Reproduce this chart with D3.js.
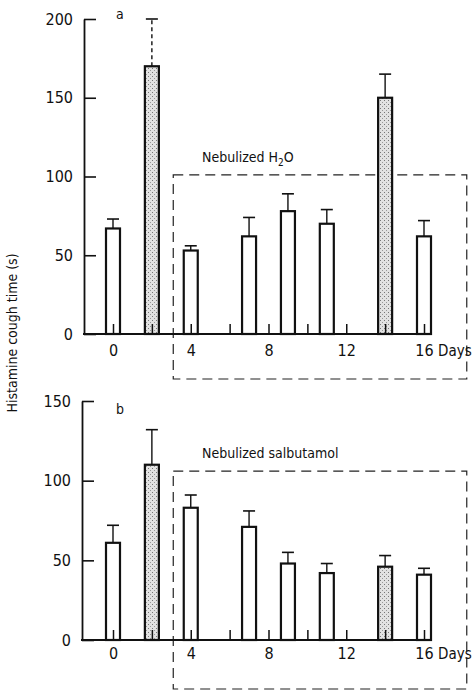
<!DOCTYPE html>
<html>
<head>
<meta charset="utf-8">
<script src="https://cdn.jsdelivr.net/npm/d3@7"></script>
<style>
  body { margin: 0; background: #fff; }
  text { font-family: "DejaVu Sans Condensed", "Liberation Sans Narrow", "DejaVu Sans", sans-serif; fill: #111; }
</style>
</head>
<body>
<script>
// values (histamine cough time, s)
var days = [0, 2, 4, 7, 9, 11, 14, 16];
var challengeDays = [2, 14];          // stippled bars
var coughA = [67, 170, 53, 62, 78, 70, 150, 62];
var semA = [6, 30, 3, 12, 11, 9, 15, 10];
var coughB = [61, 110, 83, 71, 48, 42, 46, 41];
var semB = [11, 22, 8, 10, 7, 6, 7, 4];
var dayTicks = [0, 2, 4, 6, 8, 10, 12, 14, 16];
var dayLabels = [0, 4, 8, 12, 16];
var yTicksA = [0, 50, 100, 150, 200];
var yTicksB = [0, 50, 100, 150];

var svg = d3.select("body").append("svg")
    .attr("width", 474)
    .attr("height", 692);

var x = d3.scaleLinear().domain([0, 16]).range([113, 424]);
var barW = 14;

// stipple fill for the challenge bars
var pat = svg.append("defs").append("pattern")
    .attr("id", "stip")
    .attr("patternUnits", "userSpaceOnUse")
    .attr("width", 4).attr("height", 4);
pat.append("rect").attr("width", 4).attr("height", 4).attr("fill", "#e2e2e2");
pat.append("rect").attr("x", 0).attr("y", 0).attr("width", 1).attr("height", 1).attr("fill", "#777");
pat.append("rect").attr("x", 2).attr("y", 2).attr("width", 1).attr("height", 1).attr("fill", "#999");

function panel(o) {
    var y = d3.scaleLinear().domain([0, o.max]).range([o.bottom, o.top]);
    var g = svg.append("g");

    // dashed treatment box
    var bx0 = x(3.1), bx1 = x(18.2), by0 = y(o.boxTop), by1 = o.bottom + o.boxDrop;
    g.append("rect")
        .attr("x", bx0).attr("y", by0)
        .attr("width", bx1 - bx0).attr("height", by1 - by0)
        .attr("fill", "none")
        .attr("stroke", "#222")
        .attr("stroke-width", 1.2)
        .attr("stroke-dasharray", "10,6");

    g.append("text")
        .attr("x", 202).attr("y", by0 - 13)
        .attr("font-size", 14)
        .call(o.title);

    // bars
    g.selectAll(".bar")
        .data(days)
        .enter().append("rect")
        .attr("x", function (d) { return x(d) - barW / 2; })
        .attr("y", function (d, i) { return y(o.vals[i]); })
        .attr("width", barW)
        .attr("height", function (d, i) { return o.bottom - y(o.vals[i]); })
        .attr("fill", function (d) { return challengeDays.indexOf(d) >= 0 ? "url(#stip)" : "#fff"; })
        .attr("stroke", "#111")
        .attr("stroke-width", 2.2);

    // error bars (mean + SEM)
    var err = g.selectAll(".err").data(days).enter().append("g");
    err.append("line")
        .attr("x1", function (d) { return x(d); })
        .attr("x2", function (d) { return x(d); })
        .attr("y1", function (d, i) { return y(o.vals[i]); })
        .attr("y2", function (d, i) { return y(o.vals[i] + o.sem[i]); })
        .attr("stroke", "#111")
        .attr("stroke-width", 1.4)
        .attr("stroke-dasharray", function (d) { return d === o.dashedDay ? "4,3" : null; });
    err.append("line")
        .attr("x1", function (d) { return x(d) - 6; })
        .attr("x2", function (d) { return x(d) + 6; })
        .attr("y1", function (d, i) { return y(o.vals[i] + o.sem[i]); })
        .attr("y2", function (d, i) { return y(o.vals[i] + o.sem[i]); })
        .attr("stroke", "#111")
        .attr("stroke-width", 1.6);

    // y axis, ticks pointing inward
    var ya = g.append("g")
        .attr("transform", "translate(" + o.axisX + ",0)")
        .call(d3.axisLeft(y).tickValues(o.yTicks).tickSize(-12).tickSizeOuter(0).tickPadding(11));
    ya.attr("font-family", null).attr("font-size", 16);
    ya.select(".domain").attr("stroke", "#111").attr("stroke-width", 1.8);
    ya.selectAll(".tick line").attr("stroke", "#111").attr("stroke-width", 1.6);

    // x axis: baseline + small even-day ticks, labels every 4 days
    g.append("line")
        .attr("x1", o.axisX - 1).attr("x2", x(16.3))
        .attr("y1", o.bottom).attr("y2", o.bottom)
        .attr("stroke", "#111").attr("stroke-width", 2);
    var xa = g.append("g")
        .attr("transform", "translate(0," + o.bottom + ")")
        .call(d3.axisBottom(x).tickValues(dayTicks).tickSize(-10).tickPadding(o.labPad)
            .tickFormat(function (d) { return dayLabels.indexOf(d) >= 0 ? d : ""; }));
    xa.attr("font-family", null).attr("font-size", 16);
    xa.select(".domain").remove();
    xa.selectAll(".tick line").attr("stroke", "#111").attr("stroke-width", 1.5);

    g.append("text")
        .attr("x", 438).attr("y", o.bottom + o.labPad)
        .attr("dy", "0.71em")
        .attr("font-size", 15)
        .text("Days");

    g.append("text")
        .attr("x", 116).attr("y", o.letterY)
        .attr("font-size", 14)
        .text(o.letter);
}

panel({
    vals: coughA, sem: semA, yTicks: yTicksA, max: 200,
    top: 19, bottom: 334, axisX: 84, labPad: 11,
    boxTop: 101, boxDrop: 45, dashedDay: 2,
    letter: "a", letterY: 19,
    title: function (t) {
        t.append("tspan").text("Nebulized H");
        t.append("tspan").attr("font-size", 10).attr("dy", 4).text("2");
        t.append("tspan").attr("dy", -4).text("O");
    }
});

panel({
    vals: coughB, sem: semB, yTicks: yTicksB, max: 150,
    top: 401, bottom: 640, axisX: 82, labPad: 8,
    boxTop: 106, boxDrop: 49, dashedDay: null,
    letter: "b", letterY: 414,
    title: function (t) { t.text("Nebulized salbutamol"); }
});

// shared y label
svg.append("text")
    .attr("transform", "translate(17,333) rotate(-90)")
    .attr("text-anchor", "middle")
    .attr("font-size", 14)
    .text("Histamine cough time  (s)");
</script>
</body>
</html>
